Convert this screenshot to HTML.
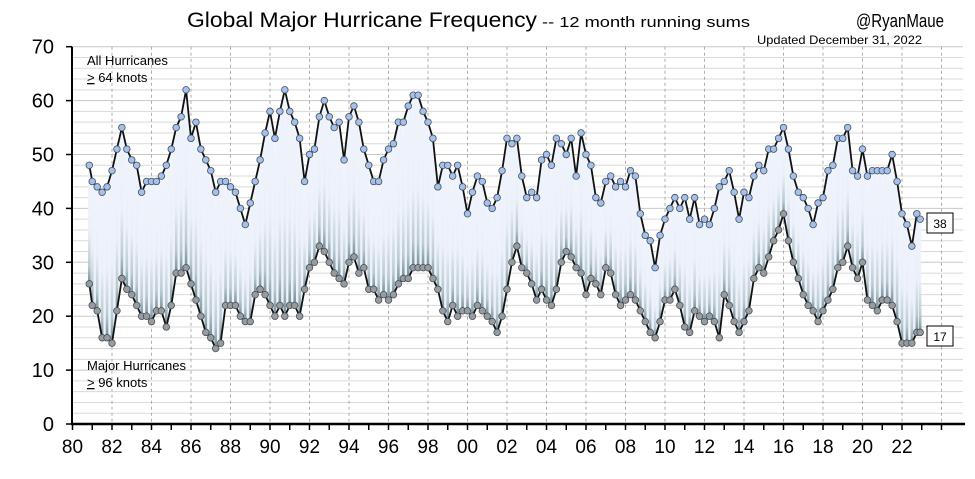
<!DOCTYPE html>
<html><head><meta charset="utf-8"><style>
html,body{margin:0;padding:0;background:#fff;}
svg{display:block;font-family:"Liberation Sans",sans-serif;}
</style></head><body>
<svg id="chart" width="975" height="479" viewBox="0 0 975 479" xmlns="http://www.w3.org/2000/svg">
<defs>
<linearGradient id="slice" x1="0" y1="0" x2="0" y2="1">
<stop offset="0" stop-color="#f2f5fd"/><stop offset="0.55" stop-color="#e8eef9"/><stop offset="0.85" stop-color="#a9bcc2"/><stop offset="1" stop-color="#456a70"/>
</linearGradient>
</defs>
<g id="grid"></g>
<g id="fill"></g>
<g id="series"></g>
<g id="axes"></g>
<text x="187" y="27" font-size="21" textLength="350" lengthAdjust="spacingAndGlyphs">Global Major Hurricane Frequency</text>
<text x="542" y="27" font-size="15" textLength="208" lengthAdjust="spacingAndGlyphs">-- 12 month running sums</text>
<text x="856" y="27" font-size="18" textLength="88" lengthAdjust="spacingAndGlyphs">@RyanMaue</text>
<text x="757" y="44" font-size="12" textLength="165" lengthAdjust="spacingAndGlyphs">Updated December 31, 2022</text>
<text x="87" y="65" font-size="13">All Hurricanes</text>
<text x="87" y="82" font-size="13"><tspan text-decoration="underline">&gt;</tspan> 64 knots</text>
<text x="87" y="370" font-size="13">Major Hurricanes</text>
<text x="87" y="387" font-size="13"><tspan text-decoration="underline">&gt;</tspan> 96 knots</text>
<g><rect x="927" y="213" width="26" height="20" fill="#fff" stroke="#000"/><text x="940" y="228" font-size="12" text-anchor="middle">38</text></g>
<g><rect x="927" y="326" width="26" height="20" fill="#fff" stroke="#000"/><text x="940" y="341" font-size="12" text-anchor="middle">17</text></g>
</svg>
<script>
const allHurr = [48,
45,44,43,44, 47,51,55,51, 49,48,43,45, 45,45,46,48, 51,55,57,62, 53,56,51,49, 47,43,45,45,
44,43,40,37, 41,45,49,54, 58,53,58,62, 58,56,53,45, 50,51,57,60, 57,55,56,49, 57,59,56,51,
48,45,45,49, 51,52,56,56, 59,61,61,58, 56,53,44,48, 48,46,48,44, 39,43,46,45, 41,40,42,47,
53,52,53,46, 42,43,42,49, 50,48,53,52, 50,53,46,54, 50,48,42,41, 45,46,44,45, 44,47,46,39,
35,34,29,35, 38,40,42,40, 42,38,42,37, 38,37,40,44, 45,47,43,38, 43,42,46,48, 47,51,51,53,
55,51,46,43, 42,40,37,41, 42,47,48,53, 53,55,47,46, 51,46,47,47, 47,47,50,45, 39,37,33,39, 38];
const majorHurr = [26,
22,21,16,16, 15,21,27,25, 24,22,20,20, 19,21,21,18, 22,28,28,29, 26,23,20,17, 16,14,15,22,
22,22,20,19, 19,24,25,24, 22,20,22,20, 22,22,20,25, 29,30,33,32, 30,28,27,26, 30,31,28,29,
25,25,23,24, 23,24,26,27, 27,29,29,29, 29,27,25,21, 19,22,20,21, 21,20,22,21, 20,19,17,20,
25,30,33,29, 28,26,23,25, 23,22,25,30, 32,31,29,28, 24,27,26,24, 29,28,24,22, 23,24,23,21,
19,17,16,19, 23,23,25,22, 18,17,21,20, 19,20,19,16, 24,22,19,17, 19,21,27,29, 28,31,34,36,
39,34,30,27, 24,22,21,19, 21,23,25,29, 30,33,29,27, 30,23,22,21, 23,23,22,19, 15,15,15,17, 17];
const yTicks = [0,10,20,30,40,50,60,70];
const xTickLabels = ["80","82","84","86","88","90","92","94","96","98","00","02","04","06","08","10","12","14","16","18","20","22"];

const NS="http://www.w3.org/2000/svg";
const X0=72.5, PXY=19.75, Y0=424, PXV=5.39;
const xs = yr => X0 + (yr-1980)*PXY;
const ys = v => Y0 - v*PXV;
function tOf(i,n){ if(i===0) return 1980.85; if(i===n-1) return 2022.92; return 1981+(i-1)*0.25; }
function mk(tag,parent,attrs){const e=document.createElementNS(NS,tag);for(const k in attrs)e.setAttribute(k,attrs[k]);parent.appendChild(e);return e;}

const grid=document.getElementById('grid');
for(let v=2;v<=70;v+=2){
  const l=mk('line',grid,{x1:72,x2:963,y1:ys(v),y2:ys(v),stroke:v%10===0?'#c8c8c8':'#dadada','stroke-width':1});
  
  
}
for(let k=1;k<=22;k++){
  const x=xs(1980+2*k);
  const l=mk('line',grid,{x1:x,x2:x,y1:ys(70),y2:Y0,stroke:'#9a9a9a','stroke-width':0.8,'stroke-dasharray':'3,3'});
  
  
}

const n=allHurr.length;
const fill=document.getElementById('fill');
let pts=[];
for(let i=0;i<n;i++) pts.push(xs(tOf(i,n))+','+ys(allHurr[i]));
for(let i=n-1;i>=0;i--) pts.push(xs(tOf(i,n))+','+ys(majorHurr[i]));
const poly=mk('polygon',fill,{points:pts.join(' '),fill:'#eef2fb'});


for(let i=0;i<n;i++){
  const x=xs(tOf(i,n));
  const r=mk('rect',fill,{x:x-1.3,width:2.6,y:ys(allHurr[i]),height:ys(majorHurr[i])-ys(allHurr[i]),fill:'url(#slice)',opacity:0.75});
  
  
}

const ser=document.getElementById('series');
function drawSeries(vals,fillc,name){
  const d=vals.map((v,i)=>(i?'L':'M')+xs(tOf(i,n)).toFixed(1)+','+ys(v).toFixed(1)).join('');
  const p=mk('path',ser,{d:d,fill:'none',stroke:'#111','stroke-width':1.8});
  
  
  vals.forEach((v,i)=>{
    const c=mk('circle',ser,{cx:xs(tOf(i,n)),cy:ys(v),r:3.3,fill:fillc,stroke:'#455060','stroke-width':0.8});
    
    
  });
}
drawSeries(majorHurr,'#9a9c9c','major-hurricanes');
drawSeries(allHurr,'#a3c1ea','all-hurricanes');

const ax=document.getElementById('axes');
const ya=mk('line',ax,{x1:72,x2:72,y1:ys(70),y2:Y0+1,stroke:'#000','stroke-width':2});


const xa=mk('line',ax,{x1:71,x2:965,y1:Y0,y2:Y0,stroke:'#000','stroke-width':2.5});


yTicks.forEach(v=>{
  const t=mk('line',ax,{x1:66,x2:72,y1:ys(v),y2:ys(v),stroke:'#000','stroke-width':1.5});
  
  
  const tx=mk('text',ax,{x:54,y:ys(v)+7,'font-size':20,'text-anchor':'end'});
  tx.textContent=v;
  
  
});
for(let yr=1980;yr<=2024;yr++){
  const t=mk('line',ax,{x1:xs(yr),x2:xs(yr),y1:Y0,y2:Y0+6,stroke:'#000','stroke-width':1.5});
  
  
}
xTickLabels.forEach((lab,k)=>{
  const tx=mk('text',ax,{x:xs(1980+2*k),y:Y0+29,'font-size':19,'text-anchor':'middle'});
  tx.textContent=lab;
  
  
});
</script>
</body></html>
